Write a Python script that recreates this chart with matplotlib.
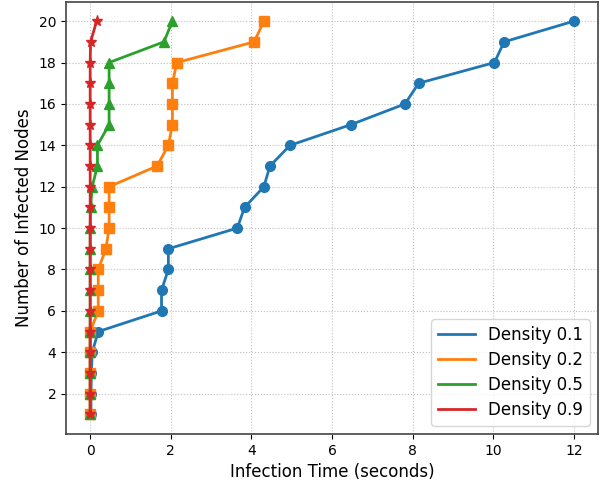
import matplotlib
matplotlib.use("Agg")
import matplotlib.pyplot as plt

nodes = list(range(1, 21))
t_d01 = [0.02, 0.02, 0.03, 0.05, 0.2, 1.77, 1.77, 1.94, 1.94, 3.65, 3.83, 4.31, 4.46, 4.96, 6.47, 7.81, 8.15, 10.03, 10.27, 12.0]
t_d02 = [0.0, 0.0, 0.0, 0.0, 0.0, 0.2, 0.2, 0.2, 0.39, 0.47, 0.47, 0.47, 1.66, 1.94, 2.04, 2.04, 2.04, 2.15, 4.07, 4.31]
t_d05 = [0.0, 0.0, 0.0, 0.0, 0.0, 0.0, 0.0, 0.0, 0.0, 0.0, 0.01, 0.05, 0.18, 0.18, 0.47, 0.47, 0.47, 0.47, 1.83, 2.04]
t_d09 = [0.0, 0.0, 0.0, 0.0, 0.0, 0.0, 0.0, 0.0, 0.0, 0.0, 0.0, 0.0, 0.0, 0.0, 0.0, 0.0, 0.0, 0.0, 0.01, 0.16]

series = [
    ("Density 0.1", t_d01, "o", "#1f77b4", 7),
    ("Density 0.2", t_d02, "s", "#ff7f0e", 7),
    ("Density 0.5", t_d05, "^", "#2ca02c", 7),
    ("Density 0.9", t_d09, "*", "#d62728", 8),
]

fig = plt.figure(figsize=(6.10, 4.87), dpi=100)
ax = fig.add_axes([66/610, (487-434)/487, (598-66)/610, (434-1.5)/487])

for label, t, m, c, ms in series:
    ax.plot(t, nodes, marker=m, color=c, linewidth=2, markersize=ms, label=label)

ax.set_xticks([0, 2, 4, 6, 8, 10, 12])
ax.set_yticks([2, 4, 6, 8, 10, 12, 14, 16, 18, 20])
ax.tick_params(labelsize=10)
ax.set_xlabel("Infection Time (seconds)", fontsize=12)
ax.set_ylabel("Number of Infected Nodes", fontsize=12)
ax.grid(True, linestyle=":", color="#b0b0b0", alpha=0.8)
for s in ax.spines.values():
    s.set_color("#444444")
    s.set_linewidth(1.2)

leg = ax.legend(loc="lower right", fontsize=12, handlelength=2.2, labelspacing=0.42)
for line in leg.get_lines():
    line.set_marker("")

fig.savefig("out.png", dpi=100)
